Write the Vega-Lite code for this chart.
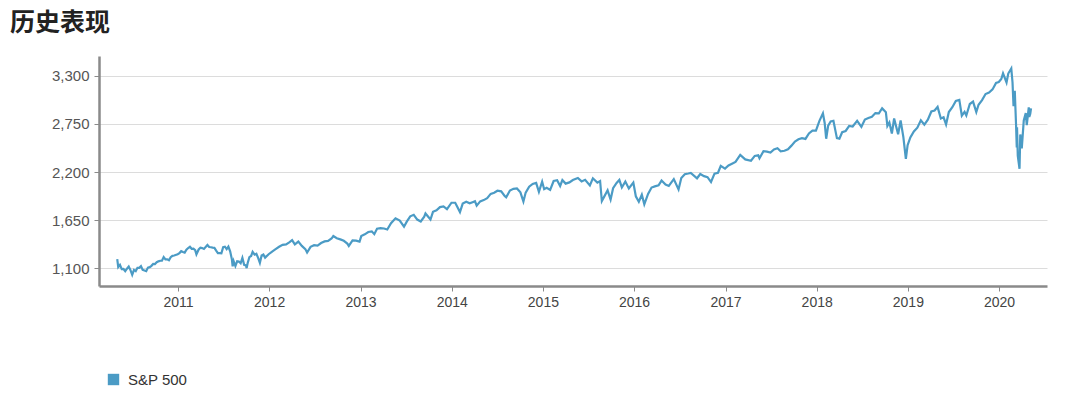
{
  "$schema": "https://vega.github.io/schema/vega-lite/v6.json",
  "autosize": {"type": "none"},
  "width": 948,
  "height": 230,
  "padding": {"left": 99, "top": 56, "right": 33, "bottom": 123},
  "background": "white",
  "title": {
    "text": "历史表现",
    "anchor": "start",
    "frame": "group",
    "dx": -89,
    "offset": 20,
    "font": "Noto Sans CJK SC",
    "fontSize": 25,
    "fontWeight": "bold",
    "color": "#222"
  },
  "config": {
    "view": {"stroke": null},
    "font": "Liberation Sans"
  },
  "data": {"values": [
{"date":"2010-05-03","value":1202},{"date":"2010-05-07","value":1111},{"date":"2010-05-14","value":1136},{"date":"2010-05-21","value":1088},{"date":"2010-05-28","value":1089},{"date":"2010-06-04","value":1064},{"date":"2010-06-11","value":1092},{"date":"2010-06-18","value":1117},{"date":"2010-06-25","value":1076},{"date":"2010-07-02","value":1022},{"date":"2010-07-09","value":1078},{"date":"2010-07-16","value":1065},{"date":"2010-07-23","value":1102},{"date":"2010-07-30","value":1102},{"date":"2010-08-06","value":1121},{"date":"2010-08-13","value":1079},{"date":"2010-08-20","value":1071},{"date":"2010-08-27","value":1065},{"date":"2010-09-03","value":1105},{"date":"2010-09-10","value":1110},{"date":"2010-09-17","value":1125},{"date":"2010-09-24","value":1148},{"date":"2010-10-01","value":1146},{"date":"2010-10-08","value":1166},{"date":"2010-10-15","value":1176},{"date":"2010-10-22","value":1183},{"date":"2010-10-29","value":1183},{"date":"2010-11-05","value":1225},{"date":"2010-11-12","value":1199},{"date":"2010-11-19","value":1199},{"date":"2010-11-26","value":1189},{"date":"2010-12-03","value":1224},{"date":"2010-12-10","value":1240},{"date":"2010-12-17","value":1243},{"date":"2010-12-31","value":1258},
{"date":"2011-01-07","value":1271},{"date":"2011-01-14","value":1293},{"date":"2011-01-21","value":1283},{"date":"2011-01-28","value":1276},{"date":"2011-02-04","value":1310},{"date":"2011-02-11","value":1329},{"date":"2011-02-18","value":1343},{"date":"2011-02-25","value":1320},{"date":"2011-03-04","value":1321},{"date":"2011-03-11","value":1304},{"date":"2011-03-16","value":1257},{"date":"2011-03-25","value":1313},{"date":"2011-04-01","value":1332},{"date":"2011-04-08","value":1328},{"date":"2011-04-15","value":1319},{"date":"2011-04-29","value":1364},{"date":"2011-05-06","value":1340},{"date":"2011-05-13","value":1338},{"date":"2011-05-20","value":1333},{"date":"2011-05-27","value":1331},{"date":"2011-06-03","value":1300},{"date":"2011-06-10","value":1271},{"date":"2011-06-17","value":1271},{"date":"2011-06-24","value":1268},{"date":"2011-07-01","value":1339},{"date":"2011-07-08","value":1344},{"date":"2011-07-15","value":1316},{"date":"2011-07-22","value":1345},{"date":"2011-07-29","value":1292},{"date":"2011-08-05","value":1199},{"date":"2011-08-08","value":1119},{"date":"2011-08-12","value":1178},{"date":"2011-08-19","value":1123},{"date":"2011-08-26","value":1177},{"date":"2011-09-02","value":1174},{"date":"2011-09-09","value":1154},{"date":"2011-09-16","value":1216},{"date":"2011-09-23","value":1136},{"date":"2011-09-30","value":1131},{"date":"2011-10-03","value":1099},{"date":"2011-10-07","value":1155},{"date":"2011-10-14","value":1224},{"date":"2011-10-21","value":1238},{"date":"2011-10-27","value":1285},{"date":"2011-11-04","value":1253},{"date":"2011-11-11","value":1263},{"date":"2011-11-18","value":1216},{"date":"2011-11-25","value":1159},{"date":"2011-12-02","value":1244},{"date":"2011-12-09","value":1255},{"date":"2011-12-16","value":1219},{"date":"2011-12-30","value":1258},
{"date":"2012-01-13","value":1289},{"date":"2012-01-27","value":1316},{"date":"2012-02-10","value":1343},{"date":"2012-02-24","value":1366},{"date":"2012-03-09","value":1371},{"date":"2012-03-23","value":1397},{"date":"2012-04-02","value":1419},{"date":"2012-04-13","value":1370},{"date":"2012-04-27","value":1403},{"date":"2012-05-11","value":1353},{"date":"2012-05-25","value":1317},{"date":"2012-06-01","value":1278},{"date":"2012-06-15","value":1343},{"date":"2012-06-29","value":1362},{"date":"2012-07-13","value":1356},{"date":"2012-07-27","value":1386},{"date":"2012-08-10","value":1405},{"date":"2012-08-24","value":1411},{"date":"2012-09-07","value":1438},{"date":"2012-09-14","value":1466},{"date":"2012-09-28","value":1441},{"date":"2012-10-12","value":1428},{"date":"2012-10-26","value":1412},{"date":"2012-11-09","value":1380},{"date":"2012-11-15","value":1353},{"date":"2012-11-30","value":1416},{"date":"2012-12-14","value":1414},{"date":"2012-12-28","value":1402},
{"date":"2013-01-04","value":1466},{"date":"2013-01-18","value":1486},{"date":"2013-02-01","value":1513},{"date":"2013-02-15","value":1520},{"date":"2013-02-25","value":1488},{"date":"2013-03-08","value":1551},{"date":"2013-03-22","value":1556},{"date":"2013-04-05","value":1553},{"date":"2013-04-18","value":1541},{"date":"2013-05-03","value":1614},{"date":"2013-05-21","value":1669},{"date":"2013-06-07","value":1643},{"date":"2013-06-24","value":1573},{"date":"2013-07-05","value":1631},{"date":"2013-07-19","value":1692},{"date":"2013-08-02","value":1709},{"date":"2013-08-16","value":1655},{"date":"2013-08-30","value":1633},{"date":"2013-09-13","value":1688},{"date":"2013-09-18","value":1725},{"date":"2013-10-08","value":1656},{"date":"2013-10-18","value":1744},{"date":"2013-11-01","value":1762},{"date":"2013-11-15","value":1798},{"date":"2013-11-29","value":1806},{"date":"2013-12-13","value":1775},{"date":"2013-12-31","value":1848},
{"date":"2014-01-15","value":1848},{"date":"2014-02-03","value":1741},{"date":"2014-02-14","value":1838},{"date":"2014-02-28","value":1859},{"date":"2014-03-14","value":1841},{"date":"2014-03-28","value":1857},{"date":"2014-04-04","value":1865},{"date":"2014-04-11","value":1815},{"date":"2014-04-25","value":1863},{"date":"2014-05-09","value":1878},{"date":"2014-05-23","value":1900},{"date":"2014-06-06","value":1949},{"date":"2014-06-20","value":1962},{"date":"2014-07-03","value":1985},{"date":"2014-07-18","value":1978},{"date":"2014-08-01","value":1925},{"date":"2014-08-07","value":1910},{"date":"2014-08-22","value":1988},{"date":"2014-09-05","value":2007},{"date":"2014-09-19","value":2011},{"date":"2014-10-03","value":1967},{"date":"2014-10-15","value":1862},{"date":"2014-10-24","value":1964},{"date":"2014-11-07","value":2032},{"date":"2014-11-21","value":2063},{"date":"2014-12-05","value":2075},{"date":"2014-12-16","value":1972},{"date":"2014-12-29","value":2090},
{"date":"2015-01-06","value":2003},{"date":"2015-01-16","value":2019},{"date":"2015-01-30","value":1995},{"date":"2015-02-13","value":2097},{"date":"2015-02-27","value":2105},{"date":"2015-03-11","value":2040},{"date":"2015-03-20","value":2108},{"date":"2015-04-02","value":2067},{"date":"2015-04-17","value":2081},{"date":"2015-05-01","value":2108},{"date":"2015-05-21","value":2131},{"date":"2015-06-05","value":2092},{"date":"2015-06-19","value":2110},{"date":"2015-07-08","value":2047},{"date":"2015-07-20","value":2128},{"date":"2015-08-07","value":2078},{"date":"2015-08-18","value":2097},{"date":"2015-08-25","value":1868},{"date":"2015-09-04","value":1921},{"date":"2015-09-17","value":1990},{"date":"2015-09-29","value":1884},{"date":"2015-10-09","value":2014},{"date":"2015-10-23","value":2075},{"date":"2015-11-03","value":2109},{"date":"2015-11-13","value":2023},{"date":"2015-11-27","value":2090},{"date":"2015-12-11","value":2012},{"date":"2015-12-29","value":2078},
{"date":"2016-01-08","value":1922},{"date":"2016-01-20","value":1859},{"date":"2016-02-01","value":1940},{"date":"2016-02-11","value":1829},{"date":"2016-02-26","value":1948},{"date":"2016-03-11","value":2022},{"date":"2016-03-24","value":2035},{"date":"2016-04-08","value":2048},{"date":"2016-04-20","value":2102},{"date":"2016-05-06","value":2057},{"date":"2016-05-19","value":2040},{"date":"2016-06-08","value":2119},{"date":"2016-06-27","value":2000},{"date":"2016-07-08","value":2130},{"date":"2016-07-22","value":2175},{"date":"2016-08-05","value":2183},{"date":"2016-08-15","value":2190},{"date":"2016-09-09","value":2128},{"date":"2016-09-22","value":2177},{"date":"2016-10-07","value":2153},{"date":"2016-10-21","value":2141},{"date":"2016-11-04","value":2085},{"date":"2016-11-18","value":2182},{"date":"2016-12-02","value":2192},{"date":"2016-12-13","value":2271},{"date":"2016-12-30","value":2239},
{"date":"2017-01-13","value":2275},{"date":"2017-01-27","value":2295},{"date":"2017-02-10","value":2316},{"date":"2017-03-01","value":2396},{"date":"2017-03-21","value":2344},{"date":"2017-04-13","value":2329},{"date":"2017-04-28","value":2384},{"date":"2017-05-12","value":2391},{"date":"2017-05-17","value":2357},{"date":"2017-06-02","value":2439},{"date":"2017-06-16","value":2433},{"date":"2017-06-30","value":2423},{"date":"2017-07-14","value":2459},{"date":"2017-07-28","value":2472},{"date":"2017-08-10","value":2438},{"date":"2017-08-25","value":2443},{"date":"2017-09-08","value":2461},{"date":"2017-09-22","value":2502},{"date":"2017-10-06","value":2549},{"date":"2017-10-20","value":2575},{"date":"2017-11-03","value":2587},{"date":"2017-11-17","value":2579},{"date":"2017-12-01","value":2642},{"date":"2017-12-15","value":2675},{"date":"2017-12-29","value":2674},
{"date":"2018-01-12","value":2786},{"date":"2018-01-26","value":2873},{"date":"2018-02-02","value":2762},{"date":"2018-02-08","value":2581},{"date":"2018-02-16","value":2732},{"date":"2018-02-26","value":2780},{"date":"2018-03-09","value":2786},{"date":"2018-03-23","value":2588},{"date":"2018-04-02","value":2582},{"date":"2018-04-13","value":2656},{"date":"2018-04-27","value":2670},{"date":"2018-05-11","value":2728},{"date":"2018-05-25","value":2721},{"date":"2018-06-12","value":2787},{"date":"2018-06-29","value":2718},{"date":"2018-07-13","value":2801},{"date":"2018-07-27","value":2819},{"date":"2018-08-10","value":2833},{"date":"2018-08-24","value":2875},{"date":"2018-09-07","value":2872},{"date":"2018-09-20","value":2931},{"date":"2018-10-05","value":2885},{"date":"2018-10-11","value":2728},{"date":"2018-10-19","value":2768},{"date":"2018-10-29","value":2641},{"date":"2018-11-07","value":2813},{"date":"2018-11-23","value":2633},{"date":"2018-12-03","value":2790},{"date":"2018-12-14","value":2600},{"date":"2018-12-24","value":2351},{"date":"2018-12-31","value":2507},
{"date":"2019-01-11","value":2596},{"date":"2019-01-25","value":2665},{"date":"2019-02-08","value":2708},{"date":"2019-02-22","value":2793},{"date":"2019-03-08","value":2743},{"date":"2019-03-22","value":2800},{"date":"2019-04-05","value":2893},{"date":"2019-04-18","value":2905},{"date":"2019-04-30","value":2946},{"date":"2019-05-13","value":2812},{"date":"2019-05-24","value":2826},{"date":"2019-06-03","value":2744},{"date":"2019-06-14","value":2887},{"date":"2019-06-28","value":2942},{"date":"2019-07-12","value":3014},{"date":"2019-07-26","value":3026},{"date":"2019-08-05","value":2845},{"date":"2019-08-16","value":2889},{"date":"2019-08-23","value":2847},{"date":"2019-09-06","value":2979},{"date":"2019-09-19","value":3006},{"date":"2019-10-02","value":2887},{"date":"2019-10-11","value":2970},{"date":"2019-10-25","value":3023},{"date":"2019-11-08","value":3093},{"date":"2019-11-22","value":3110},{"date":"2019-12-06","value":3146},{"date":"2019-12-20","value":3221},{"date":"2019-12-31","value":3231},
{"date":"2020-01-10","value":3265},{"date":"2020-01-17","value":3330},{"date":"2020-01-31","value":3226},{"date":"2020-02-07","value":3328},{"date":"2020-02-19","value":3386},{"date":"2020-02-24","value":3226},{"date":"2020-02-28","value":2954},{"date":"2020-03-04","value":3130},{"date":"2020-03-09","value":2747},{"date":"2020-03-12","value":2481},{"date":"2020-03-13","value":2711},{"date":"2020-03-16","value":2386},{"date":"2020-03-23","value":2237},{"date":"2020-03-26","value":2630},{"date":"2020-04-01","value":2471},{"date":"2020-04-09","value":2790},{"date":"2020-04-17","value":2875},{"date":"2020-04-21","value":2737},{"date":"2020-04-29","value":2940},{"date":"2020-05-01","value":2831},{"date":"2020-05-05","value":2868},{"date":"2020-05-08","value":2930}
  ]},
  "mark": {"type": "line", "strokeWidth": 2.2, "interpolate": "linear"},
  "encoding": {
    "x": {
      "field": "date", "type": "temporal",
      "scale": {"domain": ["2010-02-19", "2020-07-11"], "nice": false},
      "axis": {
        "title": null, "format": "%Y", "tickCount": {"interval": "year", "step": 1},
        "grid": false, "domainColor": "#8a8a8a", "domainWidth": 2.5,
        "tickColor": "#8a8a8a", "tickSize": 5, "labelFontSize": 14,
        "labelColor": "#444", "labelPadding": 4
      }
    },
    "y": {
      "field": "value", "type": "quantitative",
      "scale": {"domain": [894, 3529], "nice": false, "zero": false},
      "axis": {
        "title": null, "values": [1100, 1650, 2200, 2750, 3300], "format": ",.0f",
        "grid": true, "gridColor": "#dcdcdc", "gridWidth": 1,
        "domainColor": "#8a8a8a", "domainWidth": 2.5,
        "tickColor": "#8a8a8a", "tickSize": 5, "labelFontSize": 15,
        "labelColor": "#555", "labelPadding": 5
      }
    },
    "color": {
      "datum": "S&P 500", "type": "nominal",
      "scale": {"range": ["#4b9bc5"]},
      "legend": {
        "title": null, "orient": "none", "legendX": 7, "legendY": 316,
        "symbolType": "square", "symbolSize": 130, "symbolStrokeWidth": 0,
        "symbolFillColor": "#4b9bc5",
        "labelFontSize": 15, "labelColor": "#333", "labelOffset": 7
      }
    }
  }
}
